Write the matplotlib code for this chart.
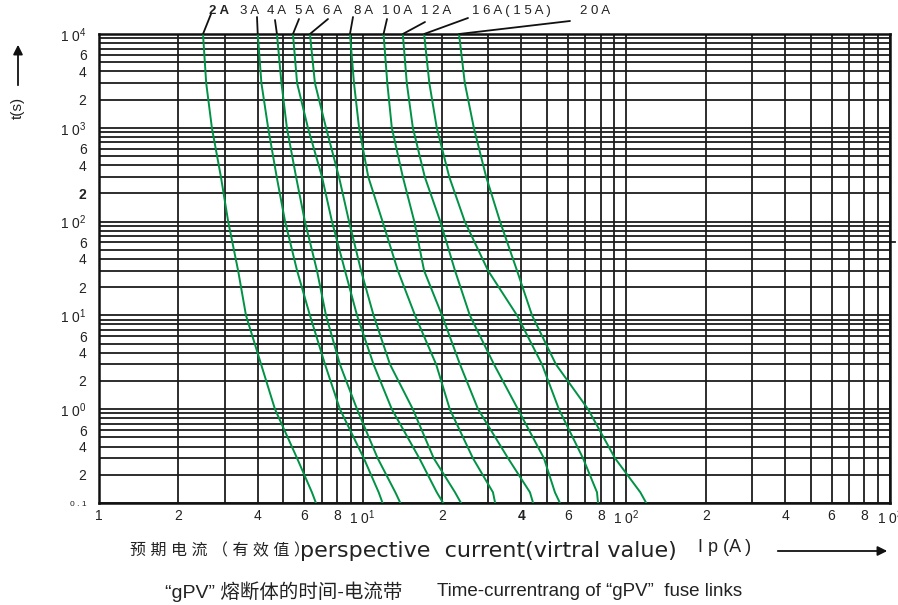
import matplotlib
matplotlib.use('Agg')
import matplotlib.pyplot as plt
from matplotlib.ticker import FixedLocator, FixedFormatter, LogLocator, NullFormatter

plt.rcParams['font.family'] = ['Liberation Sans', 'Noto Sans CJK SC', 'DejaVu Sans']
plt.rcParams['mathtext.fontset'] = 'custom'
plt.rcParams['mathtext.rm'] = 'Liberation Sans'

# pre-arcing time levels (s)
times = [1e4, 3e3, 1e3, 3e2, 1e2, 30, 10, 3, 1, 0.3, 0.13, 0.1]

# prospective current (A) of each fuse link at those times
i_2a = [2.48, 2.55, 2.68, 2.90, 3.09, 3.37, 3.61, 4.12, 4.65, 5.64, 6.42, 6.65]
i_3a = [4.00, 4.13, 4.38, 4.72, 5.08, 5.64, 6.31, 7.20, 8.20, 10.1, 11.5, 11.9]
i_4a = [4.73, 4.92, 5.16, 5.59, 6.04, 6.71, 7.26, 8.20, 9.52, 11.4, 13.3, 13.9]
i_5a = [5.44, 5.64, 6.20, 7.01, 7.65, 8.57, 9.52, 11.0, 12.9, 16.4, 19.1, 20.2]
i_6a = [6.31, 6.59, 7.26, 8.13, 8.88, 9.86, 11.0, 12.7, 15.5, 18.6, 22.4, 23.6]
i_8a = [8.95, 9.27, 9.69, 10.5, 11.9, 13.6, 15.8, 19.0, 21.4, 26.2, 31.2, 31.8]
i_10a = [12.0, 12.4, 12.9, 14.2, 15.7, 17.1, 20.0, 23.4, 27.4, 35.6, 43.1, 44.3]
i_12a = [14.2, 14.7, 15.5, 17.2, 19.7, 22.4, 25.5, 31.5, 38.8, 48.7, 53.6, 56.0]
i_16a = [17.1, 17.9, 19.1, 21.3, 24.4, 29.9, 38.5, 47.9, 55.5, 68.5, 77.4, 78.1]
i_20a = [23.2, 24.4, 26.4, 29.4, 33.2, 38.5, 43.9, 54.1, 71.6, 90.6, 113, 119]

curves = [i_2a, i_3a, i_4a, i_5a, i_6a, i_8a, i_10a, i_12a, i_16a, i_20a]
ratings = ['2 A', '3 A', '4 A', '5 A', '6 A', '8 A', '1 0 A', '1 2 A',
           '1 6 A ( 1 5 A )', '2 0 A']

x_ticks = [1, 2, 4, 6, 8, 10, 20, 40, 60, 80, 100, 200, 400, 600, 800, 1000]
x_labels = ['1', '2', '4', '6', '8', '1 0$^1$', '2', '4', '6', '8', '1 0$^2$',
            '2', '4', '6', '8', '1 0$^3$']
y_ticks = [0.1, 0.2, 0.4, 0.6, 1, 2, 4, 6, 10, 20, 40, 60, 100, 200, 400, 600,
           1000, 2000, 4000, 6000, 10000]
y_labels = ['0 . 1', '2', '4', '6', '1 0$^0$', '2', '4', '6', '1 0$^1$',
            '2', '4', '6', '1 0$^2$', '2', '4', '6', '1 0$^3$', '2', '4', '6', '1 0$^4$']

W, H = 898, 605
fig = plt.figure(figsize=(W / 100, H / 100), dpi=100)
ax = fig.add_axes([99 / W, 1 - 503 / H, (890 - 99) / W, (503 - 34) / H])
ax.set_xscale('log')
ax.set_yscale('log')
ax.set_xlim(1, 1000)
ax.set_ylim(0.1, 1e4)

grid_kw = dict(color='#1c1c1c', linewidth=1.3)
ax.xaxis.set_major_locator(FixedLocator(x_ticks))
ax.xaxis.set_major_formatter(FixedFormatter(x_labels))
ax.yaxis.set_major_locator(FixedLocator(y_ticks))
ax.yaxis.set_major_formatter(FixedFormatter(y_labels))
for axis in (ax.xaxis, ax.yaxis):
    axis.set_minor_locator(LogLocator(base=10, subs=range(1, 10), numticks=50))
    axis.set_minor_formatter(NullFormatter())
ax.grid(True, which='both', **grid_kw)
ax.set_axisbelow(True)
ax.tick_params(which='both', length=0, labelsize=10, colors='#222222')
ax.tick_params(axis='y', pad=9)
ax.tick_params(axis='x', pad=4)
for s in ax.spines.values():
    s.set_color('#111111')
    s.set_linewidth(1.8)

lab = ax.get_yticklabels()
lab[0].set_fontsize(6)
lab[13].set_fontweight('bold')
ax.get_xticklabels()[7].set_fontweight('bold')

# small overshoot of the 60 s line on the right edge
ax.plot([1000, 1045], [60, 60], color='#1c1c1c', lw=1.3, clip_on=False)

for cur in curves:
    ax.plot(cur, times, color='#009245', lw=1.4, zorder=3)

# rating labels with leader lines
label_pos = [(219, 11), (250, 11), (277, 11), (305, 11), (333, 11), (364, 11),
             (397, 11), (436, 11), (511, 11), (595, 11)]
leader_pos = [(211, 14), (257, 17), (275, 20), (299, 19), (328, 19), (353, 17),
              (387, 19), (425, 22), (468, 18), (570, 21)]
for k, (cur, name) in enumerate(zip(curves, ratings)):
    lx, ly = label_pos[k]
    fig.text(lx / W, 1 - ly / H, name, ha='center', va='center', fontsize=9.5,
             color='#222222', fontweight='bold' if k == 0 else 'normal')
    sx, sy = leader_pos[k]
    ax.annotate('', xy=(cur[0], times[0]), xycoords='data',
                xytext=(sx, H - sy), textcoords='figure pixels',
                arrowprops=dict(arrowstyle='-', color='#111111', lw=1.3,
                                shrinkA=0, shrinkB=0))

# y axis title with arrow
fig.text(18 / W, 1 - 108 / H, 't(s)', rotation=90, ha='center', va='center',
         fontsize=11, color='#222222')
fig.add_artist(matplotlib.patches.FancyArrowPatch(
    (18 / W, 1 - 88 / H), (18 / W, 1 - 42 / H), transform=fig.transFigure,
    arrowstyle='-|>', mutation_scale=14, color='#111111', lw=1.3))

# x axis title with arrow
fig.text(130 / W, 1 - 551 / H, '预 期 电 流 （ 有 效 值 ）', ha='left', va='center',
         fontsize=11.5, color='#222222')
fig.text(300 / W, 1 - 551 / H, 'perspective  current(virtral value)', ha='left',
         va='center', fontsize=16, color='#222222', family='DejaVu Sans')
fig.text(698 / W, 1 - 548 / H, 'I p (A )', ha='left', va='center', fontsize=13,
         color='#222222')
fig.add_artist(matplotlib.patches.FancyArrowPatch(
    (775 / W, 1 - 551 / H), (890 / W, 1 - 551 / H), transform=fig.transFigure,
    arrowstyle='-|>', mutation_scale=14, color='#111111', lw=1.3))

fig.text(165 / W, 1 - 592 / H, '“gPV” 熔断体的时间-电流带', ha='left', va='center',
         fontsize=14, color='#222222')
fig.text(437 / W, 1 - 592 / H, 'Time-currentrang of “gPV”  fuse links', ha='left',
         va='center', fontsize=13.5, color='#222222')

fig.savefig('out.png', dpi=100)
